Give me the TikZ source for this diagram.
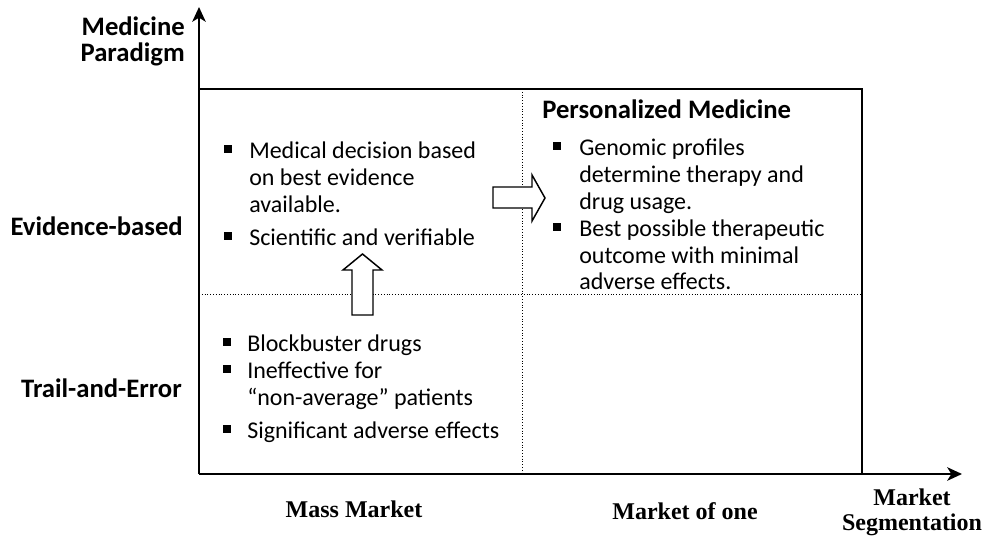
\documentclass[tikz,border=0pt]{standalone}
\usepackage{fontspec}
\setmainfont{Liberation Serif}
\newfontfamily\calfont{Carlito}
\usetikzlibrary{arrows.meta}

\tikzset{
  lbl/.style={font=\calfont\bfseries\fontsize{20}{19.5}\selectfont, inner sep=0pt},
  txt/.style={font=\calfont\fontsize{18}{20}\selectfont, anchor=base west, inner sep=0pt},
  seg/.style={font=\bfseries\fontsize{18}{18.75}\selectfont, inner sep=0pt},
  bul/.style={fill=black, minimum size=6pt, inner sep=0pt},
  blk/.style={draw, fill=white, line width=1.1pt, line join=miter},
  grid line/.style={line width=0.7pt, dash pattern=on 0.7pt off 1.4pt},
  axis/.style={line width=2.2pt, -{Stealth[length=11pt,width=10pt,inset=3pt]}}
}

\begin{document}
\begin{tikzpicture}[x=0.75pt,y=-0.75pt]
	\useasboundingbox (0,0) rectangle (984,539);
	% quadrants
	\draw [line width=1.5pt] (199,89)--(862,89)--(862,474);
	\draw [grid line] (522,89)--(522,474);
	\draw [grid line] (199,294)--(862,294);
	% axes
	\coordinate (o) at (199,474);
	\coordinate (ytip) at (199,7);
	\coordinate (xtip) at (962,474);
	\draw [axis] (o)--(ytip);
	\draw [axis] (o)--(xtip);
	% axis labels
	\node [lbl, anchor=base east, align=right] (ylab) at (185,61) {Medicine\\Paradigm};
	\node [lbl, anchor=base east] (evid) at (183,235) {Evidence-based};
	\node [lbl, anchor=base east] (trail) at (182,397) {Trail-and-Error};
	\node [seg, anchor=base] (mass) at (354,517) {Mass Market};
	\node [seg, anchor=base] (one) at (685,519) {Market of one};
	\node [seg, anchor=base, align=center] (xlab) at (912,530) {Market\\Segmentation};
	% evidence-based quadrant
	\node [bul] (b1) at (227.5,148.5) {};
	\node [bul] (b2) at (227.5,235.5) {};
	\foreach \t/\y in {Medical decision based/158, on best evidence/185, available./212, Scientific and verifiable/245}
		\node [txt] (ev\y) at (249,\y) {\t};
	% trial-and-error quadrant
	\node [bul] (b3) at (227,341.5) {};
	\node [bul] (b4) at (227,368.5) {};
	\node [bul] (b5) at (227,428.5) {};
	\foreach \t/\y in {Blockbuster drugs/351, Ineffective for/378, “non-average” patients/405, Significant adverse effects/438}
		\node [txt] (te\y) at (247,\y) {\t};
	% personalized medicine
	\node [lbl, anchor=base west] (pm) at (542,118) {Personalized Medicine};
	\node [bul] (b6) at (557,146) {};
	\node [bul] (b7) at (557,227) {};
	\foreach \t/\y in {Genomic profiles/155, determine therapy and/182, drug usage./209, Best possible therapeutic/236, outcome with minimal/263, adverse effects./289}
		\node [txt] (pm\y) at (579,\y) {\t};
	% block arrows
	\draw [blk] (352,315)--(352,270)--(343,270)--(362.5,254)--(382,270)--(373,270)--(373,315)--cycle;
	\draw [blk] (493,187)--(532,187)--(532,175)--(545,198)--(532,221)--(532,208)--(493,208)--cycle;
\end{tikzpicture}
\end{document}
